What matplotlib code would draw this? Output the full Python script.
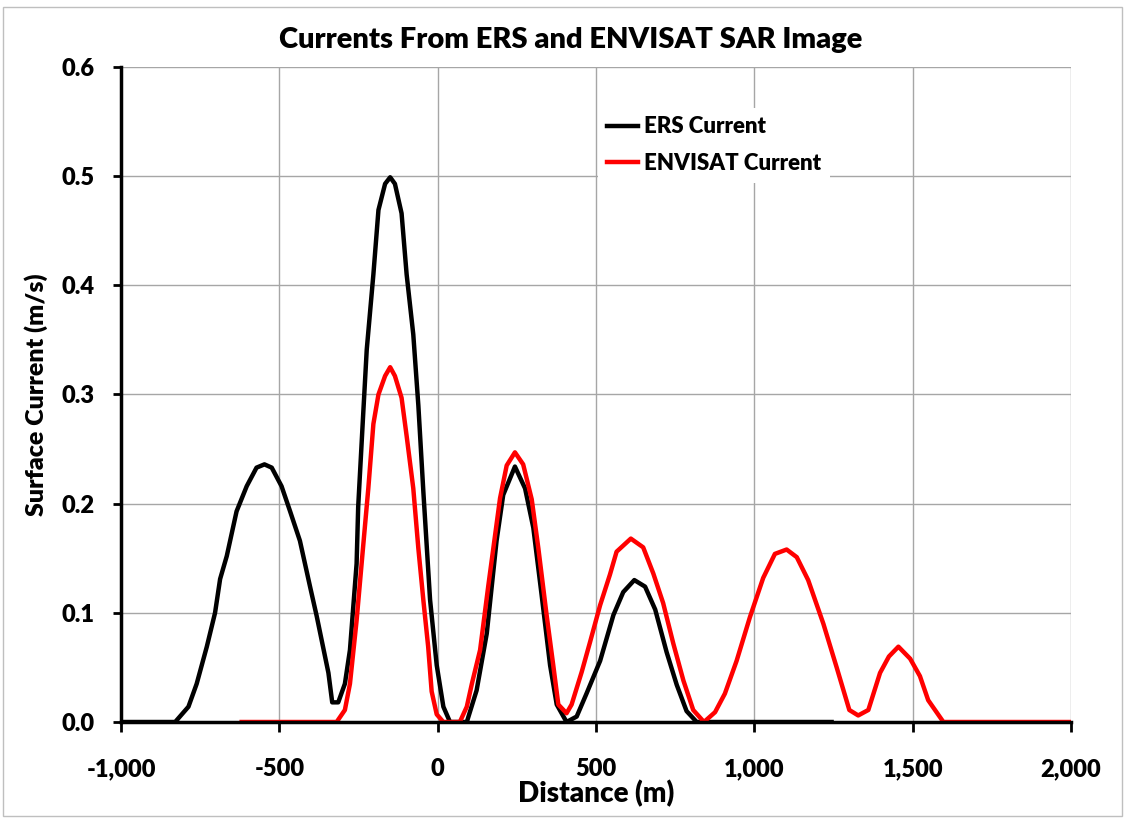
import matplotlib.pyplot as plt
import matplotlib.patches as mpatches
from matplotlib.ticker import FuncFormatter, MultipleLocator

# ERS current (black)
ers_x = [-1000, -829, -787, -761, -729, -703, -687, -666, -635, -603, -572, -547,
         -524, -493, -466, -435, -403, -382, -345, -333, -314, -293, -277, -256,
         -251, -235, -224, -203, -187, -166, -150, -135, -114, -98, -77, -61, -45,
         -24, -3, 18, 39, 92, 123, 155, 186, 207, 244, 276, 302, 328, 355, 376,
         407, 439, 470, 513, 555, 586, 621, 655, 687, 723, 755, 786, 818, 1244]
ers_y = [0.0, 0.0, 0.014, 0.035, 0.069, 0.100, 0.131, 0.152, 0.193, 0.216, 0.233, 0.236,
         0.233, 0.216, 0.193, 0.166, 0.124, 0.097, 0.045, 0.018, 0.018, 0.035, 0.066, 0.145,
         0.197, 0.283, 0.341, 0.410, 0.469, 0.493, 0.499, 0.493, 0.466, 0.410, 0.355, 0.290, 0.210,
         0.112, 0.052, 0.014, 0.0, 0.0, 0.029, 0.081, 0.166, 0.208, 0.234, 0.214, 0.178, 0.117, 0.052, 0.016,
         0.0, 0.005, 0.026, 0.056, 0.098, 0.119, 0.130, 0.124, 0.103, 0.064, 0.034, 0.010, 0.0, 0.0]

# ENVISAT current (red)
env_x = [-619, -319, -293, -277, -256, -235, -219, -203, -187, -166, -150, -135,
         -114, -98, -77, -61, -45, -30, -19, -3, 18, 70, 92, 108, 134, 160, 197,
         218, 244, 270, 297, 318, 344, 365, 381, 407, 423, 455, 481, 513, 544, 565,
         610, 649, 681, 712, 744, 776, 807, 841, 876, 907, 944, 986, 1028, 1065,
         1102, 1134, 1170, 1218, 1260, 1300, 1328, 1360, 1397, 1425, 1455, 1492,
         1523, 1549, 1597, 2000]
env_y = [0.0, 0.0, 0.011, 0.035, 0.093, 0.162, 0.214, 0.273, 0.300, 0.317, 0.325, 0.317,
         0.297, 0.262, 0.214, 0.159, 0.111, 0.069, 0.028, 0.007, 0.0, 0.0, 0.014, 0.035, 0.066, 0.125, 0.205,
         0.235, 0.247, 0.236, 0.204, 0.159, 0.098, 0.052, 0.016, 0.008, 0.016, 0.046, 0.073, 0.107, 0.135, 0.156,
         0.168, 0.160, 0.136, 0.109, 0.072, 0.038, 0.011, 0.0, 0.009, 0.026, 0.056, 0.096, 0.132, 0.154,
         0.158, 0.151, 0.130, 0.090, 0.050, 0.011, 0.006, 0.011, 0.045, 0.060, 0.069, 0.058,
         0.042, 0.020, 0.0, 0.0]

x_ticks = [-1000, -500, 0, 500, 1000, 1500, 2000]

font = ['Lato', 'DejaVu Sans']
wt = 'heavy'

fig = plt.figure(figsize=(11.27, 8.19), dpi=100)
ax = fig.add_axes([121 / 1127, 97 / 819, 950 / 1127, 655 / 819])

# thin chart border like the spreadsheet frame
fig.patches.append(mpatches.Rectangle((3 / 1127, 3 / 819), 1119 / 1127, 809 / 819,
                                      transform=fig.transFigure, fill=False,
                                      edgecolor='#bfbfbf', linewidth=1.0))

ax.plot(ers_x, ers_y, color='black', linewidth=3.2, label='ERS Current',
        solid_joinstyle='round', zorder=3)
ax.plot(env_x, env_y, color='#ff0000', linewidth=3.2, label='ENVISAT Current',
        solid_joinstyle='round', zorder=4)

ax.set_xlim(-1000, 2000)
ax.set_ylim(0, 0.6)
ax.set_xticks(x_ticks)
ax.yaxis.set_major_locator(MultipleLocator(0.1))
ax.xaxis.set_major_formatter(FuncFormatter(lambda v, p: f"{v:,.0f}"))
ax.yaxis.set_major_formatter(FuncFormatter(lambda v, p: f"{v:.1f}"))

ax.grid(True, color='#a6a6a6', linewidth=1.0, zorder=0)
ax.set_axisbelow(True)
for side in ['top', 'right']:
    ax.spines[side].set_visible(False)
for side in ['left', 'bottom']:
    ax.spines[side].set_linewidth(2.5)
    ax.spines[side].set_zorder(5)
ax.tick_params(axis='y', direction='out', width=2.0, length=6, labelsize=17, pad=13)
ax.tick_params(axis='x', direction='out', width=2.0, length=7, labelsize=17, pad=19)
for lab in ax.get_xticklabels() + ax.get_yticklabels():
    lab.set_fontweight(wt)
    lab.set_family(font)

ax.set_xlabel('Distance (m)', fontsize=20, fontweight=wt, family=font, labelpad=0)
ax.set_ylabel('Surface Current (m/s)', fontsize=18, fontweight=wt, family=font, labelpad=10)
fig.text(0.506, 0.951, 'Currents From ERS and ENVISAT SAR Image', ha='center', va='center',
         fontsize=21, fontweight=wt, family=font)

leg = ax.legend(loc='upper left', bbox_to_anchor=(0.49, 0.955), frameon=True,
                edgecolor='none', framealpha=1.0, fancybox=False,
                prop={'family': font, 'weight': wt, 'size': 16},
                handlelength=1.4, handletextpad=0.3, labelspacing=0.7, borderpad=0.4)

fig.savefig('out.png', dpi=100)
